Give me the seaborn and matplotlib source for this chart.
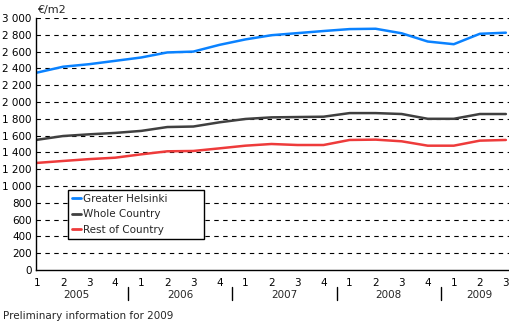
import numpy as np
import pandas as pd
import seaborn as sns
import matplotlib
matplotlib.use("Agg")
import matplotlib.pyplot as plt
from matplotlib.ticker import FuncFormatter

quarters = ["1", "2", "3", "4"] * 4 + ["1", "2", "3"]
years = ["2005", "2006", "2007", "2008", "2009"]
series_names = ["Greater Helsinki", "Whole Country", "Rest of Country"]

greater_helsinki = [2350, 2420, 2450, 2490, 2530, 2590, 2600, 2680, 2745, 2795,
                    2820, 2845, 2868, 2872, 2818, 2720, 2688, 2812, 2825]
whole_country = [1550, 1595, 1615, 1632, 1656, 1702, 1708, 1758, 1798, 1817,
                 1821, 1825, 1868, 1868, 1857, 1800, 1800, 1857, 1857]
rest_of_country = [1275, 1298, 1320, 1337, 1377, 1413, 1417, 1448, 1480, 1500,
                   1488, 1488, 1548, 1552, 1532, 1480, 1480, 1540, 1548]

colors = ["#0A82FF", "#404040", "#EE3B3B"]

n = len(quarters)
idx = np.arange(n)
df = pd.DataFrame({
    "x": np.concatenate([idx, idx, idx]),
    "value": greater_helsinki + whole_country + rest_of_country,
    "series": [series_names[0]] * n + [series_names[1]] * n + [series_names[2]] * n,
})

sns.set_theme(style="white")
plt.rcParams["font.family"] = ["DejaVu Sans"]

W, H = 509, 322
fig = plt.figure(figsize=(W / 100, H / 100), dpi=100)
left_px, right_px, top_px, bottom_px = 36, 509, 18, 270
ax = fig.add_axes([left_px / W, 1 - bottom_px / H, (right_px - left_px) / W, (bottom_px - top_px) / H])

sns.lineplot(data=df, x="x", y="value", hue="series", palette=colors,
             linewidth=1.8, ax=ax, legend=False)

ax.set_xlim(-0.04, 18.12)
ax.set_ylim(0, 3000)
ax.set_yticks(np.arange(0, 3001, 200))
ax.yaxis.set_major_formatter(FuncFormatter(lambda v, p: f"{int(v):,}".replace(",", " ")))
for y in range(200, 3001, 200):
    ax.axhline(y, color="black", linewidth=0.8, linestyle=(0, (4, 4)), zorder=0)

ax.set_xticks(idx)
ax.set_xticklabels(quarters)
ax.tick_params(axis="both", length=0, labelsize=7.5, colors="black")
ax.tick_params(axis="x", pad=5.5)
ax.tick_params(axis="y", pad=3)
ax.set_xlabel("")
ax.set_ylabel("")

for s in ["top", "right"]:
    ax.spines[s].set_visible(False)
for s in ["left", "bottom"]:
    ax.spines[s].set_color("black")
    ax.spines[s].set_linewidth(1.0)

trans = matplotlib.transforms.blended_transform_factory(ax.transData, fig.transFigure)
year_pos = [1.5, 5.5, 9.5, 13.5, 17.0]
for yr, xp in zip(years, year_pos):
    ax.text(xp, 1 - 295 / H, yr, transform=trans, ha="center", va="center", fontsize=7.5)
for xp in [3.5, 7.5, 11.5, 15.5]:
    ax.plot([xp, xp], [1 - 287 / H, 1 - 300 / H], transform=trans, color="black",
            linewidth=1.0, clip_on=False)

fig.text(37 / W, 1 - 10 / H, "€/m2", fontsize=8, va="center", ha="left")
fig.text(3 / W, 1 - 316 / H, "Preliminary information for 2009", fontsize=7.5,
         va="center", ha="left")

handles = [plt.Line2D([], [], color=c, linewidth=2) for c in colors]
leg = ax.legend(handles, series_names, loc="upper left",
                bbox_to_anchor=(68 / W, 1 - 190 / H), bbox_transform=fig.transFigure,
                fontsize=7.5, frameon=True, fancybox=False, handlelength=0.9,
                handletextpad=0.2, borderpad=0.35, labelspacing=0.55, borderaxespad=0)
leg.get_frame().set_edgecolor("black")
leg.get_frame().set_linewidth(1.0)
leg.get_frame().set_facecolor("white")
leg.get_frame().set_alpha(1)
for t in leg.get_texts():
    t.set_text(t.get_text() + "          ")

fig.savefig("out.png", dpi=100)
